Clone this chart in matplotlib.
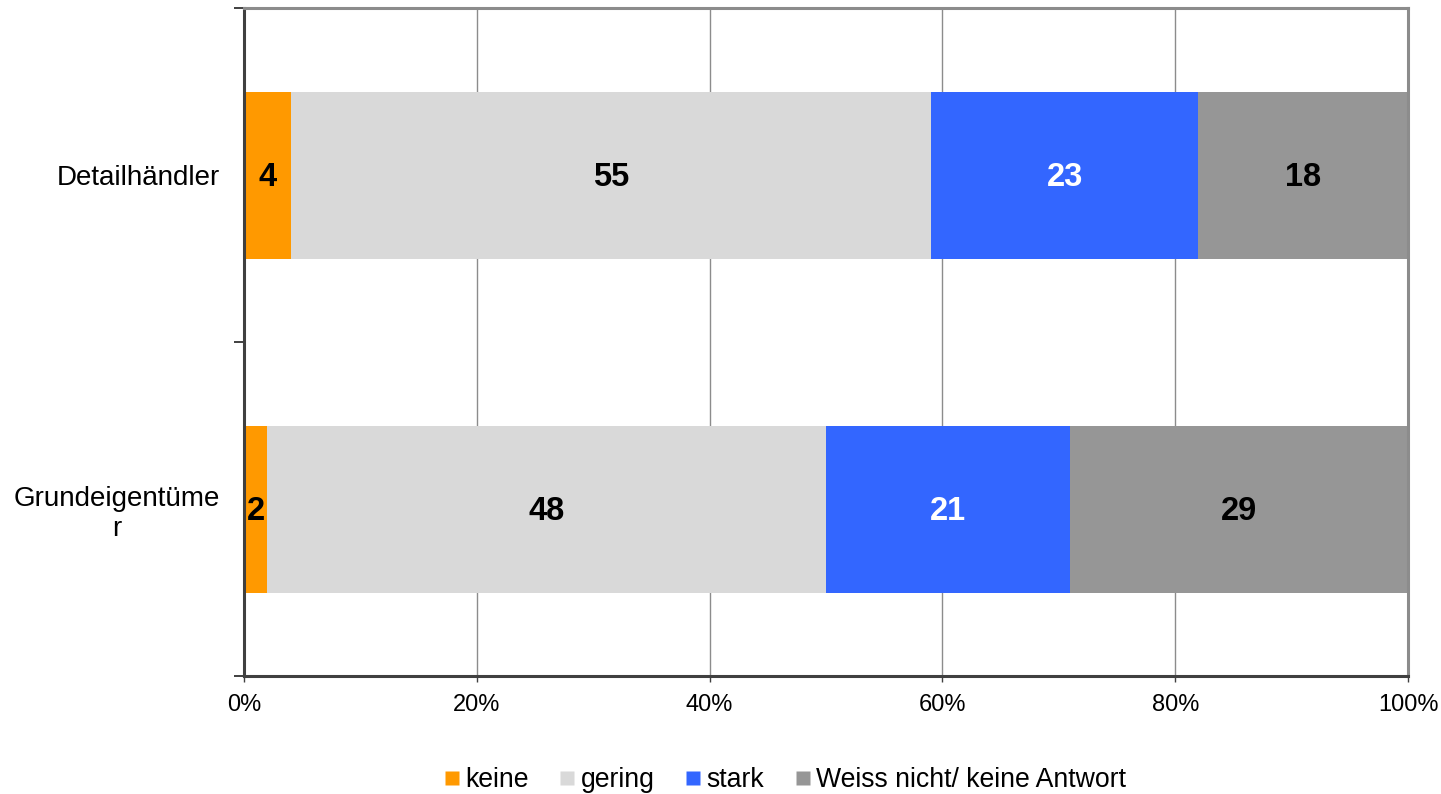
import matplotlib
matplotlib.use("Agg")
import matplotlib.pyplot as plt
from matplotlib.lines import Line2D

plt.rcParams['font.family'] = ['Liberation Sans', 'DejaVu Sans']

categories = ["Grundeigentüme\nr", "Detailhändler"]
series_names = ["keine", "gering", "stark", "Weiss nicht/ keine Antwort"]
keine = [2, 4]
gering = [48, 55]
stark = [21, 23]
weiss = [29, 18]
series_values = [keine, gering, stark, weiss]
colors = ["#FF9900", "#D9D9D9", "#3366FF", "#969696"]
label_colors = ["black", "black", "white", "black"]
xticklabels = ["0%", "20%", "40%", "60%", "80%", "100%"]

fig = plt.figure(figsize=(14.41, 7.94), dpi=100)
ax = fig.add_axes([244/1441, 1 - 676/794, (1408-244)/1441, (676-8)/794])

ypos = list(range(len(categories)))
left = [0.0] * len(categories)
for vals, col, lc in zip(series_values, colors, label_colors):
    ax.barh(ypos, vals, left=left, height=0.5, color=col, edgecolor='none', zorder=2)
    for y, v, l in zip(ypos, vals, left):
        ax.text(l + v / 2, y - 0.008, str(v), ha='center', va='center', fontsize=23.5,
                fontweight='bold', color=lc, zorder=3)
    left = [a + b for a, b in zip(left, vals)]

ax.set_xlim(0, 100)
ax.set_ylim(-0.5, 1.5)
ax.set_xticks([0, 20, 40, 60, 80, 100])
ax.set_xticklabels(xticklabels, fontsize=17)
ax.tick_params(axis='x', length=4, width=1, color='#404040', pad=9)
ax.set_yticks(ypos)
ax.set_yticklabels(categories, fontsize=20, multialignment='center')
ax.tick_params(axis='y', which='major', length=0, pad=17)
ax.set_yticks([-0.5, 0.5, 1.5], minor=True)
ax.tick_params(axis='y', which='minor', length=7, width=1.2, color='#202020')

ax.grid(axis='x', color='#8c8c8c', linewidth=1, zorder=1)
ax.set_axisbelow(True)
for s in ['top', 'right']:
    ax.spines[s].set_color('#8c8c8c')
    ax.spines[s].set_linewidth(2.2)
for s in ['left', 'bottom']:
    ax.spines[s].set_color('#404040')
    ax.spines[s].set_linewidth(2.2)

handles = [Line2D([0], [0], marker='s', linestyle='none', markersize=10,
                  markerfacecolor=c, markeredgecolor='none') for c in colors]
fig.legend(handles, series_names, loc='center', bbox_to_anchor=(785/1441, 1 - 780/794),
           ncol=4, frameon=False, fontsize=19.2, handletextpad=0.2, columnspacing=1.15,
           handlelength=0.6)

fig.savefig("out.png", dpi=100)
